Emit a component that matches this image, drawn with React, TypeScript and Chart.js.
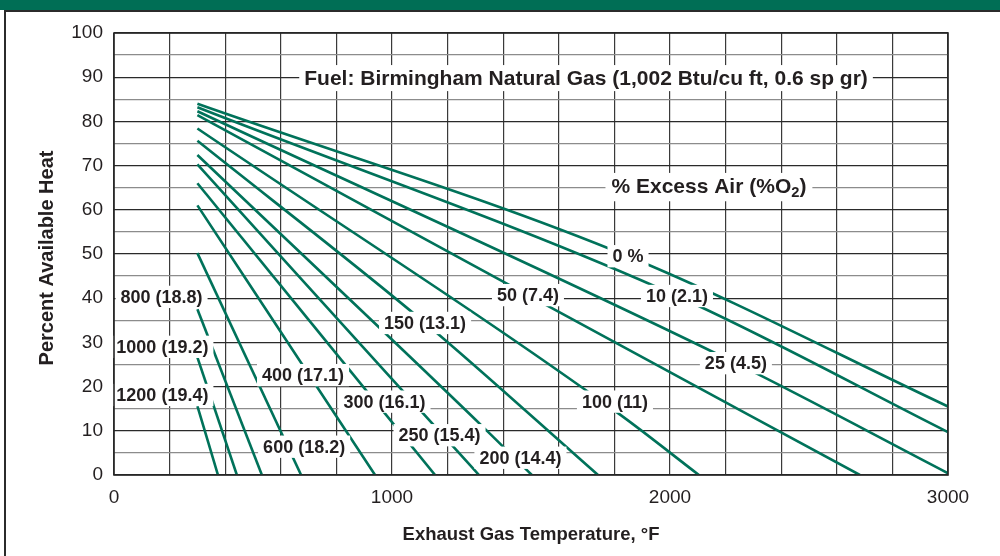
import { useEffect, useRef } from 'react';
import { Chart, registerables } from 'chart.js';

Chart.register(...registerables);

// Curve names: % excess air (% O2)
const curveNames = [
  '0 %', '10 (2.1)', '25 (4.5)', '50 (7.4)', '100 (11)', '150 (13.1)', '200 (14.4)',
  '250 (15.4)', '300 (16.1)', '400 (17.1)', '600 (18.2)', '800 (18.8)', '1000 (19.2)', '1200 (19.4)',
];

// Exhaust gas temperature (°F) points of each curve
const curveTemps = [
  [300, 1849, 3000],
  [300, 2025, 3000],
  [300, 2237, 3000],
  [300, 1489, 2683],
  [300, 1813, 2104],
  [300, 1119, 1741],
  [300, 1327, 1503],
  [300, 1209, 1313],
  [300, 1155],
  [300, 939],
  [300, 673],
  [300, 532],
  [300, 442],
  [300, 374],
];

// Percent available heat at those points
const curveHeat = [
  [84.0, 49.5, 15.5],
  [83.2, 40.5, 9.7],
  [82.3, 25.3, 0.4],
  [81.4, 40.7, 0],
  [78.4, 14.0, 0],
  [75.6, 34.4, 0],
  [72.4, 10.9, 0],
  [70.3, 7.2, 0],
  [66.0, 0],
  [61.0, 0],
  [50.2, 0],
  [37.5, 0],
  [26.6, 0],
  [15.6, 0],
];

// Label anchor positions (data coords) for each curve name
const labelTemps = [1849, 2025, 2237, 1489, 1802, 1119, 1462, 1171, 973, 680, 684, 171, 174, 174];
const labelHeat = [49.5, 40.5, 25.3, 40.7, 16.6, 34.4, 3.9, 9.0, 16.6, 22.6, 6.4, 40.3, 29.0, 18.1];

const fuelText = 'Fuel: Birmingham Natural Gas (1,002 Btu/cu ft, 0.6 sp gr)';
const fuelPos = [1698, 89.8];
const excessPos = [2140, 65.4];

const xTickLabels = [0, 1000, 2000, 3000];
const yTickLabels = [0, 10, 20, 30, 40, 50, 60, 70, 80, 90, 100];

const FONT = '"Liberation Sans", Arial, Helvetica, sans-serif';
const GREEN = '#00725a';

export default function App() {
  const ref = useRef<HTMLCanvasElement | null>(null);

  useEffect(() => {
    const canvas = ref.current;
    if (!canvas) return;

    const drawBoxText = (ctx: CanvasRenderingContext2D, text: string, cx: number, cy: number, size: number) => {
      ctx.font = `bold ${size}px ${FONT}`;
      const w = ctx.measureText(text).width;
      ctx.fillStyle = '#ffffff';
      ctx.fillRect(cx - w / 2 - 5, cy - size * 0.62, w + 10, size * 1.24);
      ctx.fillStyle = '#231f20';
      ctx.textAlign = 'center';
      ctx.textBaseline = 'middle';
      ctx.fillText(text, cx, cy + 1);
    };

    const decor = {
      id: 'decor',
      beforeDraw(chart: any) {
        const ctx = chart.ctx as CanvasRenderingContext2D;
        ctx.save();
        ctx.fillStyle = '#ffffff';
        ctx.fillRect(0, 0, chart.width, chart.height);
        ctx.fillStyle = '#006e55';
        ctx.fillRect(0, 0, chart.width, 10);
        ctx.strokeStyle = '#2b2b2b';
        ctx.lineWidth = 2;
        ctx.beginPath();
        ctx.moveTo(4, 11);
        ctx.lineTo(chart.width, 11);
        ctx.moveTo(5, 11);
        ctx.lineTo(5, chart.height);
        ctx.stroke();
        ctx.restore();
      },
      afterDatasetsDraw(chart: any) {
        const ctx = chart.ctx as CanvasRenderingContext2D;
        const xs = chart.scales.x;
        const ys = chart.scales.y;
        ctx.save();
        curveNames.forEach((name, i) => {
          drawBoxText(ctx, name, xs.getPixelForValue(labelTemps[i]), ys.getPixelForValue(labelHeat[i]), 18);
        });
        drawBoxText(ctx, fuelText, xs.getPixelForValue(fuelPos[0]), ys.getPixelForValue(fuelPos[1]), 21);

        // % Excess Air (%O2) with subscript
        const size = 21;
        const cx = xs.getPixelForValue(excessPos[0]);
        const cy = ys.getPixelForValue(excessPos[1]);
        ctx.font = `bold ${size}px ${FONT}`;
        const a = '% Excess Air (%O';
        const wa = ctx.measureText(a).width;
        const wc = ctx.measureText(')').width;
        ctx.font = `bold ${size * 0.7}px ${FONT}`;
        const wb = ctx.measureText('2').width;
        const total = wa + wb + wc;
        const left = cx - total / 2;
        ctx.fillStyle = '#ffffff';
        ctx.fillRect(left - 6, cy - size * 0.62, total + 12, size * 1.35);
        ctx.fillStyle = '#231f20';
        ctx.textAlign = 'left';
        ctx.textBaseline = 'middle';
        ctx.font = `bold ${size}px ${FONT}`;
        ctx.fillText(a, left, cy + 1);
        ctx.font = `bold ${size * 0.7}px ${FONT}`;
        ctx.fillText('2', left + wa, cy + 7);
        ctx.font = `bold ${size}px ${FONT}`;
        ctx.fillText(')', left + wa + wb, cy + 1);
        ctx.restore();
      },
      afterDraw(chart: any) {
        const ctx = chart.ctx as CanvasRenderingContext2D;
        const { left, right, top, bottom } = chart.chartArea;
        ctx.save();
        ctx.strokeStyle = '#262626';
        ctx.lineWidth = 1.6;
        ctx.strokeRect(left, top, right - left, bottom - top);
        ctx.fillStyle = '#231f20';
        ctx.font = `bold 18.5px ${FONT}`;
        ctx.textAlign = 'center';
        ctx.textBaseline = 'middle';
        ctx.fillText('Exhaust Gas Temperature, °F', (left + right) / 2, 535);
        ctx.font = `bold 20px ${FONT}`;
        ctx.translate(47, (top + bottom) / 2 + 4);
        ctx.rotate(-Math.PI / 2);
        ctx.fillText('Percent Available Heat', 0, 0);
        ctx.restore();
      },
    };

    const chart = new Chart(canvas, {
      type: 'line',
      data: {
        datasets: curveTemps.map((ts, i) => ({
          label: curveNames[i],
          data: ts.map((t, j) => ({ x: t, y: curveHeat[i][j] })),
          borderColor: GREEN,
          borderWidth: 2.6,
          pointRadius: 0,
          fill: false,
          cubicInterpolationMode: 'monotone' as const,
        })),
      },
      options: {
        animation: false,
        responsive: false,
        maintainAspectRatio: false,
        layout: { padding: { left: 0, right: 52, top: 33, bottom: 0 } },
        plugins: { legend: { display: false }, tooltip: { enabled: false } },
        scales: {
          x: {
            type: 'linear',
            min: 0,
            max: 3000,
            ticks: {
              stepSize: 200,
              autoSkip: false,
              maxRotation: 0,
              padding: 11,
              color: '#231f20',
              font: { family: FONT, size: 19 },
              callback: (v: any) => (xTickLabels.includes(Number(v)) ? String(v) : ''),
            },
            grid: { color: '#3a3a3a', lineWidth: 1.2, drawTicks: false },
            border: { display: false },
            afterFit: (s: any) => { s.height = 81; },
          },
          y: {
            min: 0,
            max: 100,
            ticks: {
              stepSize: 5,
              autoSkip: false,
              padding: 11,
              color: '#231f20',
              font: { family: FONT, size: 19 },
              callback: (v: any) => (yTickLabels.includes(Number(v)) ? String(v) : ''),
            },
            grid: {
              color: (c: any) => (c.tick && c.tick.value % 10 === 0 ? '#2a2a2a' : '#8c8c8c'),
              lineWidth: 1.3,
              drawTicks: false,
            },
            border: { display: false },
            afterFit: (s: any) => { s.width = 114; },
          },
        },
      },
      plugins: [decor],
    });

    return () => chart.destroy();
  }, []);

  return (
    <div style={{ position: 'fixed', left: 0, top: 0, width: 1000, height: 556 }}>
      <canvas ref={ref} width={1000} height={556} style={{ display: 'block', width: 1000, height: 556 }} />
    </div>
  );
}
